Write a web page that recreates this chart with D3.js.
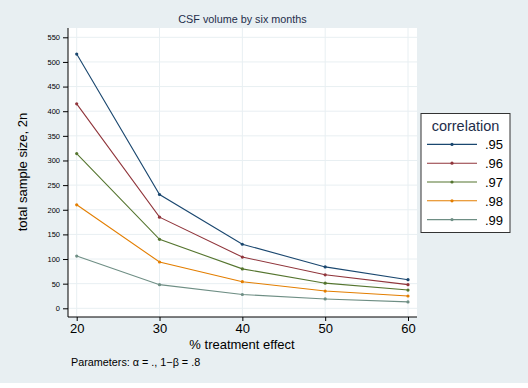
<!DOCTYPE html>
<html><head><meta charset="utf-8">
<script src="https://cdn.jsdelivr.net/npm/d3@7"></script>
<style>body{margin:0;background:#fff}svg{display:block}text{font-family:"Liberation Sans",Arial,sans-serif}</style>
</head><body>
<script>
const xValues = [20, 30, 40, 50, 60];
const seriesNames = [".95", ".96", ".97", ".98", ".99"];
const s95 = [516, 231, 130, 84, 58];
const s96 = [415, 185, 104, 68, 48];
const s97 = [314, 140, 80, 51, 37];
const s98 = [210, 94, 54, 35, 25];
const s99 = [106, 48, 28, 19, 13];
const seriesColors = ["#1a476f", "#90353b", "#55752f", "#e37e00", "#6e8e84"];
const yTicks = [0, 50, 100, 150, 200, 250, 300, 350, 400, 450, 500, 550];
const series = [s95, s96, s97, s98, s99];

const W = 528, H = 388;
const svg = d3.select("body").append("svg").attr("width", W).attr("height", H);
svg.append("rect").attr("x", 0).attr("y", 0).attr("width", W).attr("height", 383).attr("fill", "#e8eff2");

const pl = 68, pr = 417, pt = 28, pb = 317;
svg.append("rect").attr("x", pl).attr("y", pt).attr("width", pr - pl).attr("height", pb - pt).attr("fill", "#fff");

const x = d3.scaleLinear().domain([20, 60]).range([76.7, 408]);
const y = d3.scaleLinear().domain([0, 550]).range([308.3, 37.3]);

// grid
svg.append("g").selectAll("line").data(yTicks).join("line")
  .attr("x1", pl).attr("x2", pr).attr("y1", d => y(d)).attr("y2", d => y(d))
  .attr("stroke", "#e8eff2").attr("stroke-width", 1);
svg.append("g").selectAll("line").data(xValues).join("line")
  .attr("y1", pt).attr("y2", pb).attr("x1", d => x(d)).attr("x2", d => x(d))
  .attr("stroke", "#e8eff2").attr("stroke-width", 1);

// axes
const yAxis = d3.axisLeft(y).tickValues(yTicks).tickSize(5).tickPadding(3);
const gy = svg.append("g").attr("transform", `translate(${pl},0)`).call(yAxis);
gy.select(".domain").attr("d", `M0,${pt}V${pb}`).attr("stroke", "#000");
gy.selectAll(".tick line").attr("stroke", "#000");
gy.selectAll(".tick text").attr("font-size", 7.5).attr("fill", "#000")
  .style("font-family", "Liberation Sans, Arial, sans-serif");

const xAxis = d3.axisBottom(x).tickValues(xValues).tickSize(4).tickPadding(3);
const gx = svg.append("g").attr("transform", `translate(0,${pb})`).call(xAxis);
gx.select(".domain").attr("d", `M${pl},0H${pr}`).attr("stroke", "#000");
gx.selectAll(".tick line").attr("stroke", "#000");
gx.selectAll(".tick text").attr("font-size", 13).attr("fill", "#000")
  .style("font-family", "Liberation Sans, Arial, sans-serif");

// lines
const line = d3.line().x((d, i) => x(xValues[i])).y(d => y(d));
series.forEach((s, k) => {
  svg.append("path").datum(s).attr("d", line).attr("fill", "none")
    .attr("stroke", seriesColors[k]).attr("stroke-width", 1.1);
  svg.append("g").selectAll("circle").data(s).join("circle")
    .attr("cx", (d, i) => x(xValues[i])).attr("cy", d => y(d)).attr("r", 1.6)
    .attr("fill", seriesColors[k]);
});

// texts
svg.append("text").attr("x", 242.5).attr("y", 23).attr("text-anchor", "middle")
  .attr("font-size", 10.8).attr("fill", "#1e2d4a").text("CSF volume by six months");
svg.append("text").attr("transform", "translate(27,172) rotate(-90)").attr("text-anchor", "middle")
  .attr("font-size", 13).attr("fill", "#000").text("total sample size, 2n");
svg.append("text").attr("x", 242).attr("y", 349).attr("text-anchor", "middle")
  .attr("font-size", 13).attr("fill", "#000").text("% treatment effect");
svg.append("text").attr("x", 71).attr("y", 365.5)
  .attr("font-size", 10.8).attr("fill", "#000").text("Parameters: α = ., 1−β = .8");

// legend
const lg = svg.append("g");
lg.append("rect").attr("x", 421).attr("y", 113.5).attr("width", 89).attr("height", 119)
  .attr("fill", "#fff").attr("stroke", "#333").attr("stroke-width", 1);
lg.append("text").attr("x", 465.5).attr("y", 131).attr("text-anchor", "middle")
  .attr("font-size", 14.5).attr("fill", "#1e2d4a").text("correlation");
const ly = d3.scaleBand().domain(seriesNames).range([135, 229]);
seriesNames.forEach((n, k) => {
  const yy = ly(n) + ly.bandwidth() / 2;
  lg.append("line").attr("x1", 427).attr("x2", 477).attr("y1", yy).attr("y2", yy)
    .attr("stroke", seriesColors[k]).attr("stroke-width", 1.1);
  lg.append("circle").attr("cx", 452).attr("cy", yy).attr("r", 1.6).attr("fill", seriesColors[k]);
  lg.append("text").attr("x", 485).attr("y", yy + 5).attr("font-size", 13).attr("fill", "#000").text(n);
});
</script>
</body></html>
